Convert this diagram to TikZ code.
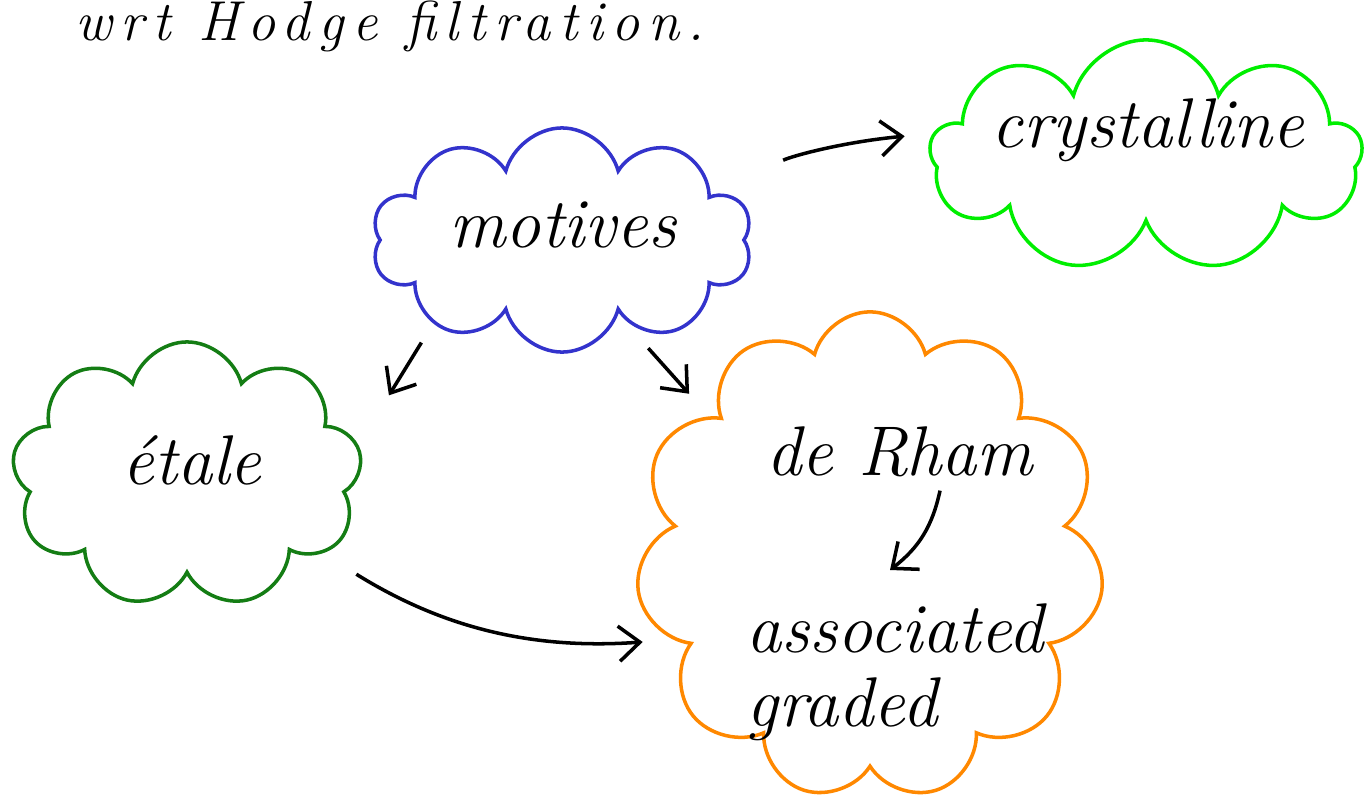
\documentclass[tikz,border=0pt]{standalone}
\usepackage{fontspec}
\usepackage{tikz}
\usetikzlibrary{shapes.symbols,arrows.meta}

\newfontfamily\spreadfont{Latin Modern Roman}[LetterSpace=15]

\definecolor{motblue}{RGB}{51,51,204}
\definecolor{crysgreen}{RGB}{0,238,0}
\definecolor{etgreen}{RGB}{20,125,20}
\definecolor{drorange}{RGB}{255,136,0}

\tikzset{
  blob/.style={cloud, cloud puffs=#1, cloud ignores aspect, draw, line width=1pt},
  word/.style={font=\fontsize{20}{21}\selectfont\itshape},
}

\begin{document}
\begin{tikzpicture}[x=0.01cm, y=-0.01cm, line width=1pt, >={Straight Barb[length=6pt,width=10pt]}]
    \useasboundingbox (0,0) rectangle (1364,803);

    \node[font=\spreadfont\fontsize{16}{18}\selectfont\itshape, anchor=base west] (title) at (62,40) {wrt Hodge filtration.};

    % clouds
    \node[blob=10, motblue, minimum width=3.8cm, minimum height=2.24cm] (motives) at (562,240) {};
    \node[blob=9, crysgreen, minimum width=4.32cm, minimum height=2.32cm] (crys) at (1146,156) {};
    \node[blob=9, etgreen, minimum width=3.5cm, minimum height=2.66cm] (etale) at (187,475) {};
    \node[blob=11, drorange, minimum width=4.68cm, minimum height=4.88cm] (drham) at (870,556) {};

    % labels
    \node[word] (tmotives) at (563,225) {motives};
    \node[word] (tcrys) at (1148,130) {crystalline};
    \node[word] (tetale) at (192,460) {étale};
    \node[word] (tdrham) at (900,452) {de Rham};
    \node[word, align=left] (tassoc) at (895,672) {associated\\graded};

    \draw[->, shorten <=0.8cm, shorten >=0.28cm] (motives.17) to[bend left=10] (crys.174);
    \draw[->, shorten <=0.22cm, shorten >=0.58cm] (motives.213) -- (etale.10);
    \draw[->, shorten <=0.45cm, shorten >=0.3cm] (motives.307) -- (drham.139);
    \draw[->, shorten <=0.39cm, shorten >=0.3cm] (etale.330) to[bend right=18] (drham.203);
    \draw[->] ([xshift=0.4cm]tdrham.south) to[bend left=20] ([xshift=-0.05cm,yshift=0.2cm]tassoc.north);
\end{tikzpicture}
\end{document}
